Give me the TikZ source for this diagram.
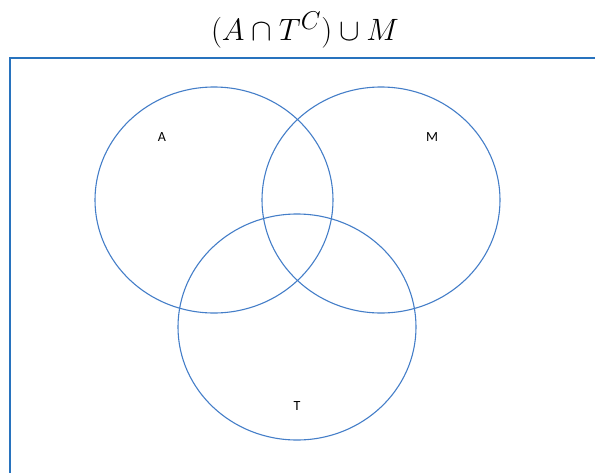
\documentclass[tikz,border=0pt]{standalone}
\usepackage{fontspec}
\newfontfamily\labelfont{Carlito}
\usetikzlibrary{shapes.geometric}
\definecolor{frameblue}{RGB}{40,115,190}
\definecolor{setblue}{RGB}{68,126,200}

\begin{document}
\begin{tikzpicture}[
  x=1pt,y=-1pt,
  setcirc/.style={draw=setblue,ellipse,line width=1.1pt,minimum width=238pt,
                  minimum height=226pt,inner sep=0pt},
  setlabel/.style={font=\labelfont\fontsize{14}{16}\selectfont,text=black}
]
\useasboundingbox (0,0) rectangle (595,472);
% frame
\draw[frameblue,line width=2pt] (9.5,480) -- (9.5,57.5) -- (600,57.5);
% title
\node[scale=1.24] (title) at (305,30) {\Huge$(A\cap T^{C})\cup M$};
% sets
\node[setcirc] (setA) at (214,200) {};
\node[setcirc] (setM) at (381,200) {};
\node[setcirc] (setT) at (297,327) {};
\node[setlabel] (labA) at (162,137) {A};
\node[setlabel] (labM) at (432,137) {M};
\node[setlabel] (labT) at (297,406) {T};
\end{tikzpicture}
\end{document}
